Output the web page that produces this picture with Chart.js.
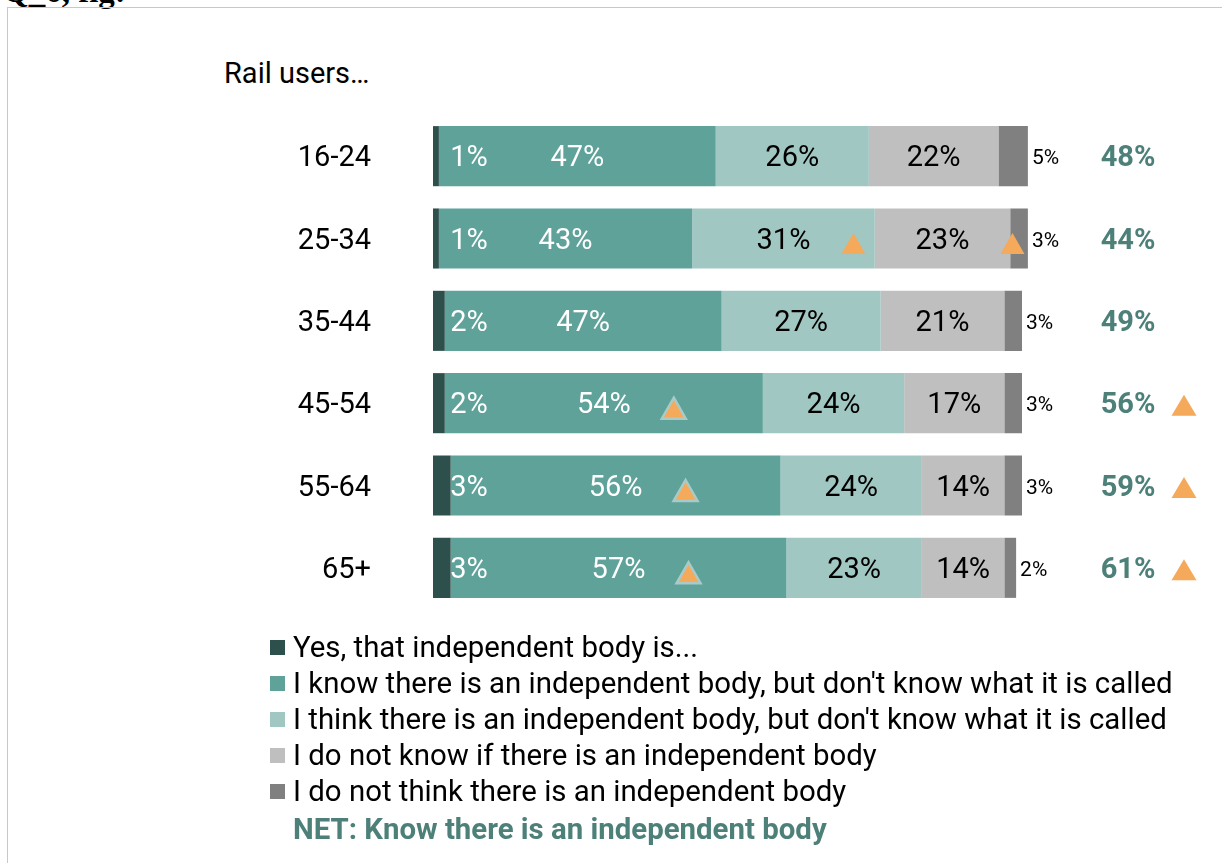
<!DOCTYPE html>
<html>
<head>
<meta charset="utf-8">
<title>Rail users - awareness of independent body</title>
<script src="https://cdn.jsdelivr.net/npm/chart.js@4.4.0/dist/chart.umd.min.js"></script>
<style>
  body { margin:0; background:#fff; font-family:Roboto, "Open Sans", sans-serif; }
  #wrap { position:relative; width:1222px; height:863px; overflow:hidden; background:#fff; }
  #frame { position:absolute; left:7px; top:7px; width:1240px; height:900px; border:1px solid #c8c8c8; }
  #qtag { position:absolute; left:3px; top:-27px; font:bold 33px "Liberation Serif", serif; color:#000; white-space:nowrap; }
  #subtitle { position:absolute; left:224px; top:56px; font-size:29px; color:#000; }
  canvas { position:absolute; left:0; top:0; }
  #legend { position:absolute; left:270px; top:629px; }
  .lg-row { height:36px; line-height:36px; white-space:nowrap; font-size:29.4px; color:#000; }
  .lg-box { display:inline-block; width:15px; height:15px; margin-right:8px; vertical-align:middle; position:relative; top:-2px; }
  .lg-net { padding-left:23px; color:#4d8079; font-weight:bold; margin-top:2px; }
</style>
</head>
<body>
<div id="wrap">
  <div id="qtag">Q_6, fig:</div>
  <div id="frame"></div>
  <div id="subtitle">Rail users…</div>
  <canvas id="chart" width="1222" height="863"></canvas>
  <div id="legend"></div>
</div>
<script>
/* ---------- data ---------- */
const ageGroups = ['16-24', '25-34', '35-44', '45-54', '55-64', '65+'];

const yesNamed     = [1, 1, 2, 2, 3, 3];
const knowUnnamed  = [47, 43, 47, 54, 56, 57];
const thinkUnnamed = [26, 31, 27, 24, 24, 23];
const dontKnow     = [22, 23, 21, 17, 14, 14];
const dontThink    = [5, 3, 3, 3, 3, 2];
const netKnow      = [48, 44, 49, 56, 59, 61];

// significantly higher markers (triangles)
const sigKnow      = [false, false, false, true, true, true];
const sigThink     = [false, true, false, false, false, false];
const sigDontKnow  = [false, true, false, false, false, false];
const sigNet       = [false, false, false, true, true, true];

const seriesNames = [
  'Yes, that independent body is...',
  'I know there is an independent body, but don\'t know what it is called',
  'I think there is an independent body, but don\'t know what it is called',
  'I do not know if there is an independent body',
  'I do not think there is an independent body'
];
const netName = 'NET: Know there is an independent body';

const COLORS = ['#2e504c', '#5ea29a', '#a1c7c3', '#bfbfbf', '#808080'];
const NET_COLOR = '#4d8079';
const TRI_FILL = '#f5a95a';

/* ---------- labels + triangles plugin ---------- */
function triangle(ctx, cx, cy, w, h, stroke){
  ctx.beginPath();
  ctx.moveTo(cx, cy - h/2);
  ctx.lineTo(cx + w/2, cy + h/2);
  ctx.lineTo(cx - w/2, cy + h/2);
  ctx.closePath();
  ctx.fillStyle = TRI_FILL;
  ctx.fill();
  if(stroke){
    ctx.lineWidth = 2.5;
    ctx.strokeStyle = stroke;
    ctx.stroke();
  }
}

const segLabels = {
  id: 'segLabels',
  afterDatasetsDraw(chart){
    const ctx = chart.ctx;
    const area = chart.chartArea;
    const sigs = [null, sigKnow, sigThink, sigDontKnow, null];
    ctx.save();
    ctx.textBaseline = 'middle';
    chart.data.datasets.forEach((ds, di) => {
      const meta = chart.getDatasetMeta(di);
      meta.data.forEach((bar, i) => {
        const v = ds.data[i];
        const txt = v + '%';
        const ty = bar.y + 3;
        let cx;
        if(di === 0){
          cx = bar.base + 36;
          ctx.font = '29px Roboto';
          ctx.textAlign = 'center';
          ctx.fillStyle = '#fff';
          ctx.fillText(txt, cx, ty);
        } else if(di === 4){
          ctx.font = '21px Roboto';
          ctx.textAlign = 'left';
          ctx.fillStyle = '#000';
          ctx.fillText(txt, bar.x + 4, ty);
        } else {
          cx = (bar.base + bar.x) / 2;
          ctx.font = '29px Roboto';
          ctx.textAlign = 'center';
          ctx.fillStyle = di === 1 ? '#fff' : '#000';
          ctx.fillText(txt, cx, ty);
          if(sigs[di] && sigs[di][i]){
            triangle(ctx, cx + 70, bar.y + 5, 24, 21, di === 1 ? '#a9cbc7' : null);
          }
        }
      });
    });

    // NET column
    const meta0 = chart.getDatasetMeta(0);
    netKnow.forEach((v, i) => {
      const y = meta0.data[i].y;
      ctx.font = 'bold 29px Roboto';
      ctx.textAlign = 'center';
      ctx.fillStyle = NET_COLOR;
      ctx.fillText(v + '%', area.right + 106, y + 3);
      if(sigNet[i]) triangle(ctx, area.right + 162, y + 2, 25, 21, null);
    });
    ctx.restore();
  }
};

/* ---------- chart ---------- */
const seriesData = [yesNamed, knowUnnamed, thinkUnnamed, dontKnow, dontThink];

const chart = new Chart(document.getElementById('chart'), {
  type: 'bar',
  data: {
    labels: ageGroups,
    datasets: seriesData.map((d, k) => ({
      label: seriesNames[k],
      data: d,
      backgroundColor: COLORS[k],
      borderWidth: 0,
      barPercentage: 0.73,
      categoryPercentage: 1,
      clip: false
    }))
  },
  options: {
    indexAxis: 'y',
    responsive: false,
    animation: false,
    layout: { padding: { left: 0, right: 200, top: 115, bottom: 254 } },
    plugins: { legend: { display: false }, tooltip: { enabled: false } },
    scales: {
      x: { stacked: true, min: 0, max: 100, display: false },
      y: {
        stacked: true,
        grid: { display: false, drawTicks: false },
        border: { display: false },
        ticks: { color: '#000', font: { family: 'Roboto', size: 29 }, padding: 62, labelOffset: 3 },
        afterFit(scale){ scale.width = 433; }
      }
    }
  },
  plugins: [segLabels]
});

/* ---------- legend ---------- */
const legendEl = document.getElementById('legend');
legendEl.innerHTML = chart.data.datasets.map(ds =>
  `<div class="lg-row"><span class="lg-box" style="background:${ds.backgroundColor}"></span>${ds.label}</div>`
).join('') + `<div class="lg-row lg-net">${netName}</div>`;
</script>
</body>
</html>
